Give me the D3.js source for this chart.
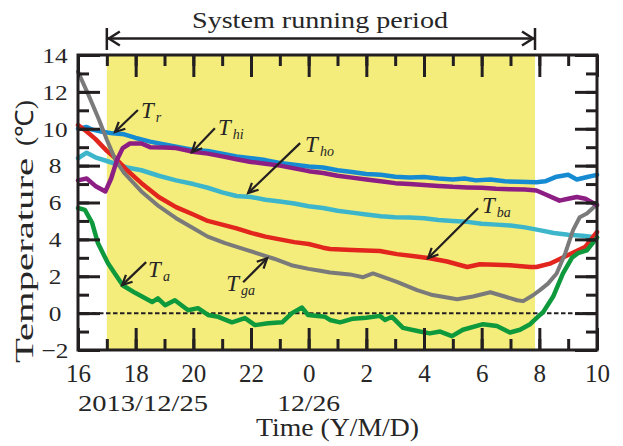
<!DOCTYPE html>
<html><head><meta charset="utf-8">
<script src="https://cdn.jsdelivr.net/npm/d3@7"></script>
<style>
body{margin:0;background:#fff}
svg{display:block}
text{font-family:"Liberation Serif","Times New Roman",serif;fill:#262626}
</style>
</head><body>
<svg id="chart" width="623" height="446"></svg>
<script>
// ---------- data ----------
const xTickHours = [0,2,4,6,8,10,12,14,16,18];
const xTickLabels = ["16","18","20","22","0","2","4","6","8","10"];
const xMinorHours = d3.range(0,19,1);
const dateLabels = ["2013/12/25","12/26"];
const dateLabelHours = [0,8];
const yTicks = [-2,0,2,4,6,8,10,12,14];
const yMinor = d3.range(-2,15,1);
const runPeriod = [1.0, 15.85];
const titleText = "System running period";
const xTitle = "Time (Y/M/D)";
const yTitle = "Temperature";
const yUnit = "(℃)";

const seriesTr = [[0,10.0],[0.3,10.1],[0.5,9.95],[0.8,9.85],[1.2,9.75],[1.6,9.7],[2,9.5],[2.5,9.3],[3,9.15],[3.5,9.0],[4,8.85],[4.5,8.8],[5,8.65],[5.5,8.5],[6,8.4],[6.5,8.3],[7,8.15],[7.5,8.05],[8,7.95],[8.5,7.9],[9,7.75],[9.5,7.65],[10,7.55],[10.5,7.5],[11,7.4],[11.5,7.35],[12,7.38],[12.5,7.3],[13,7.25],[13.4,7.3],[13.8,7.2],[14.3,7.25],[14.8,7.15],[15.3,7.12],[15.9,7.1],[16.2,7.15],[16.6,7.4],[17,7.5],[17.3,7.25],[17.7,7.4],[18,7.5]];
const seriesThi = [[0,7.2],[0.3,7.3],[0.6,6.9],[0.95,6.6],[1.15,7.3],[1.35,8.3],[1.55,8.95],[1.8,9.2],[2.2,9.2],[2.5,9.0],[3.0,8.98],[3.4,8.95],[4,8.75],[4.5,8.65],[5,8.5],[5.5,8.35],[6,8.2],[6.5,8.1],[7,8.0],[7.5,7.85],[8,7.7],[8.5,7.6],[9,7.45],[9.5,7.35],[10,7.25],[10.5,7.15],[11,7.05],[11.5,7.0],[12,6.95],[12.5,6.9],[13,6.85],[13.5,6.82],[14,6.8],[14.5,6.75],[15,6.72],[15.5,6.7],[15.9,6.65],[16.2,6.45],[16.7,6.1],[17,6.2],[17.3,6.3],[17.6,6.2],[18,5.85]];
const seriesTho = [[0,8.4],[0.3,8.7],[0.6,8.45],[1.0,8.25],[1.3,8.1],[1.7,7.9],[2.2,7.75],[2.8,7.45],[3.4,7.2],[4,7.0],[4.5,6.8],[5,6.55],[5.5,6.35],[6,6.3],[6.5,6.15],[7,6.05],[7.5,5.95],[8,5.8],[8.5,5.7],[9,5.55],[9.5,5.45],[10,5.35],[10.5,5.25],[11,5.2],[11.5,5.18],[12,5.15],[12.5,5.05],[13,5.0],[13.5,4.95],[14,4.85],[14.5,4.8],[15,4.75],[15.5,4.65],[16,4.5],[16.5,4.35],[17,4.25],[17.5,4.2],[18,4.1]];
const seriesTba = [[0,10.2],[0.3,9.85],[0.6,9.45],[1,8.8],[1.3,8.4],[1.7,7.75],[2.2,7.05],[2.8,6.3],[3.4,5.75],[4,5.35],[4.5,5.0],[5,4.8],[5.5,4.6],[6,4.35],[6.5,4.15],[7,4.0],[7.5,3.85],[8,3.75],[8.5,3.55],[8.74,3.48],[9.5,3.42],[10.47,3.37],[11.06,3.2],[11.6,3.1],[12.2,2.98],[12.8,2.8],[13.5,2.5],[13.94,2.65],[14.5,2.62],[14.98,2.6],[15.68,2.5],[15.9,2.5],[16.4,2.7],[16.8,3.0],[17.2,3.3],[17.6,3.6],[18,4.4]];
const seriesTga = [[0,13.1],[0.4,11.7],[0.7,10.6],[1.0,9.4],[1.3,8.3],[1.6,7.6],[2.2,6.6],[2.8,5.8],[3.4,5.15],[4,4.6],[4.5,4.15],[5.1,3.8],[5.7,3.5],[6.3,3.2],[6.8,2.95],[7.4,2.6],[8,2.4],[8.4,2.3],[8.74,2.2],[9.43,2.1],[9.89,1.95],[10.23,2.15],[10.6,1.95],[11.06,1.7],[11.76,1.25],[12.3,0.98],[13.15,0.75],[13.7,0.9],[14.3,1.13],[14.8,0.9],[15.23,0.7],[15.44,0.65],[15.78,0.97],[16.02,1.25],[16.3,1.6],[16.6,2.15],[16.9,3.25],[17.17,4.5],[17.4,5.2],[17.65,5.4],[18,5.9]];
const seriesTa = [[0,5.7],[0.24,5.6],[0.49,4.9],[0.69,3.8],[1.04,2.7],[1.3,2.1],[1.56,1.5],[1.98,1.1],[2.22,0.9],[2.57,0.6],[2.77,0.8],[3.02,0.43],[3.36,0.7],[3.82,0.16],[4.16,0.27],[4.51,-0.1],[4.86,-0.2],[5.34,-0.5],[5.79,-0.27],[6.14,-0.65],[6.59,-0.55],[7.08,-0.5],[7.42,0.0],[7.77,0.3],[7.98,-0.1],[8.57,-0.2],[8.74,-0.37],[9.09,-0.5],[9.54,-0.3],[10.0,-0.25],[10.47,-0.15],[10.65,-0.37],[10.89,-0.2],[11.27,-0.8],[11.86,-1.0],[12.2,-1.1],[12.56,-1.0],[12.97,-1.25],[13.35,-0.9],[14.05,-0.6],[14.53,-0.7],[14.98,-1.05],[15.33,-0.9],[15.68,-0.6],[16.02,-0.1],[16.13,0.05],[16.48,0.9],[16.82,2.15],[17.13,3.0],[17.34,3.25],[17.65,3.4],[18,4.1]];

const seriesNames = ["Tr","Tho","Tba","Tga","Thi","Ta"];
const seriesData = [seriesTr, seriesTho, seriesTba, seriesTga, seriesThi, seriesTa];
const seriesColors = ["#178bd2","#3db6cb","#e2261d","#7a7a7a","#8d1e84","#0e9a3c"];

// annotation: symbol base, subscript, arrow head (hour, value)
const annoBase = ["T","T","T","T","T","T"];
const annoSub = ["r","hi","ho","ba","a","ga"];
const annoHeadHour = [1.28, 3.95, 5.90, 12.14, 1.53, 6.56];
const annoHeadValue = [9.82, 8.73, 6.51, 2.98, 1.52, 2.98];

// ---------- layout ----------
const L = 78, R = 597, T = 55, B = 350;
const svg = d3.select("#chart");
const x = d3.scaleLinear().domain([0,18]).range([L,R]);
const y = d3.scaleLinear().domain([-2,14]).range([B,T]);
const ink = "#231f20";

function stretch(sel, f){
  sel.each(function(){
    const n = this.getComputedTextLength();
    d3.select(this).attr("textLength", n*f).attr("lengthAdjust","spacingAndGlyphs");
  });
}

// running period shading
svg.append("rect")
  .attr("x", x(runPeriod[0])).attr("y", T)
  .attr("width", x(runPeriod[1]) - x(runPeriod[0])).attr("height", B - T)
  .attr("fill", "#f4ed7c");

// zero dashed line
svg.append("line")
  .attr("x1", L).attr("x2", R).attr("y1", y(0)).attr("y2", y(0))
  .attr("stroke", ink).attr("stroke-width", 2).attr("stroke-dasharray", "4.5,2.5");

// series
const line = d3.line().x(d => x(d[0])).y(d => y(d[1]));
seriesData.forEach((s, i) => {
  svg.append("path").datum(s)
    .attr("d", line)
    .attr("fill", "none")
    .attr("stroke", seriesColors[i])
    .attr("stroke-width", seriesNames[i] === "Tga" ? 4 : 4.5)
    .attr("stroke-linejoin", "round")
    .attr("stroke-linecap", "round");
});

// axes (inward ticks)
function styleAxis(g){
  g.select(".domain").remove();
  g.selectAll(".tick line").attr("stroke", ink).attr("stroke-width", 3);
}
const majorLen = 22, minorLen = 11;
// bottom
const gB = svg.append("g").attr("transform", `translate(0,${B})`);
gB.append("g").call(d3.axisBottom(x).tickValues(xMinorHours).tickSizeInner(-minorLen).tickFormat("")).call(styleAxis);
const gBm = gB.append("g").call(d3.axisBottom(x).tickValues(xTickHours).tickSizeInner(-majorLen).tickFormat((d,i) => xTickLabels[i])).call(styleAxis);
gBm.selectAll(".tick text").attr("y", 32).attr("dy", 0).attr("font-size", 25).attr("fill", ink);
// top
const gT = svg.append("g").attr("transform", `translate(0,${T})`);
gT.append("g").call(d3.axisTop(x).tickValues(xMinorHours).tickSizeInner(-minorLen).tickFormat("")).call(styleAxis);
gT.append("g").call(d3.axisTop(x).tickValues(xTickHours).tickSizeInner(-majorLen).tickFormat("")).call(styleAxis);
// left
const gL = svg.append("g").attr("transform", `translate(${L},0)`);
gL.append("g").call(d3.axisLeft(y).tickValues(yMinor).tickSizeInner(-minorLen).tickFormat("")).call(styleAxis);
const gLm = gL.append("g").call(d3.axisLeft(y).tickValues(yTicks).tickSizeInner(-majorLen).tickFormat(d3.format("d"))).call(styleAxis);
gLm.selectAll(".tick text").attr("x", 55 - L).attr("text-anchor", "middle").attr("dy", "0.33em")
  .attr("font-size", 22).attr("fill", ink).call(stretch, 1.15);
// right
const gR = svg.append("g").attr("transform", `translate(${R},0)`);
gR.append("g").call(d3.axisRight(y).tickValues(yMinor).tickSizeInner(-minorLen).tickFormat("")).call(styleAxis);
gR.append("g").call(d3.axisRight(y).tickValues(yTicks).tickSizeInner(-majorLen).tickFormat("")).call(styleAxis);

// frame
svg.append("rect").attr("x", L).attr("y", T).attr("width", R - L).attr("height", B - T)
  .attr("fill", "none").attr("stroke", ink).attr("stroke-width", 3);

// date labels
const dateWidths = [130, 63];
svg.selectAll(".date").data(dateLabels).join("text")
  .attr("class","date")
  .attr("x", (d,i) => x(dateLabelHours[i]))
  .attr("y", 411)
  .attr("text-anchor", (d,i) => i === 0 ? "start" : "middle")
  .attr("font-size", 23)
  .text(d => d)
  .attr("textLength", (d,i) => dateWidths[i]).attr("lengthAdjust","spacingAndGlyphs");

// axis titles
svg.append("text").attr("x", (L+R)/2).attr("y", 436).attr("text-anchor","middle")
  .attr("font-size", 25).text(xTitle).attr("textLength", 163).attr("lengthAdjust","spacingAndGlyphs");
svg.append("text").attr("transform", "translate(33,363) rotate(-90)").attr("text-anchor","start")
  .attr("font-size", 25).text(yTitle).attr("textLength", 205).attr("lengthAdjust","spacingAndGlyphs");
svg.append("text").attr("transform", "translate(33,146) rotate(-90)").attr("text-anchor","start")
  .attr("font-size", 25).text(yUnit).attr("textLength", 46).attr("lengthAdjust","spacingAndGlyphs");

// title + period arrow
svg.append("text").attr("x", 320).attr("y", 28).attr("text-anchor","middle")
  .attr("font-size", 24).text(titleText).attr("textLength", 256).attr("lengthAdjust","spacingAndGlyphs");
const xs = x(runPeriod[0]), xe = x(runPeriod[1]), ya = 38.5;
const ga = svg.append("g").attr("stroke", ink).attr("stroke-width", 2.5).attr("fill","none");
ga.append("line").attr("x1", xs).attr("x2", xe).attr("y1", ya).attr("y2", ya);
ga.append("line").attr("x1", xs).attr("x2", xs).attr("y1", 28).attr("y2", 50);
ga.append("line").attr("x1", xe).attr("x2", xe).attr("y1", 28).attr("y2", 50);
ga.append("path").attr("d", `M${xs+13},${ya-7}L${xs+2},${ya}L${xs+13},${ya+7}`);
ga.append("path").attr("d", `M${xe-13},${ya-7}L${xe-2},${ya}L${xe-13},${ya+7}`);

// annotations (offsets in px from arrow head)
const tailOff = [[23,-22],[23,-24],[52,-50],[50,-50],[24,-23],[-24,24]];
const textOff = [[26,-14],[26,-17],[57,-41],[54,-45],[26,-8],[-41,33]];
const ag = svg.append("g");
annoSub.forEach((sub, i) => {
  const hx = x(annoHeadHour[i]), hy = y(annoHeadValue[i]);
  const tx = hx + tailOff[i][0], ty = hy + tailOff[i][1];
  const ang = Math.atan2(ty - hy, tx - hx);
  const a1 = ang + 0.45, a2 = ang - 0.45, hl = 11;
  ag.append("line").attr("x1", tx).attr("y1", ty).attr("x2", hx).attr("y2", hy)
    .attr("stroke", ink).attr("stroke-width", 2.2);
  ag.append("path")
    .attr("d", `M${hx + hl*Math.cos(a1)},${hy + hl*Math.sin(a1)}L${hx},${hy}L${hx + hl*Math.cos(a2)},${hy + hl*Math.sin(a2)}`)
    .attr("stroke", ink).attr("stroke-width", 2.2).attr("fill", "none");
  const t = ag.append("text").attr("x", hx + textOff[i][0]).attr("y", hy + textOff[i][1])
    .attr("font-style", "italic").attr("font-size", 23);
  t.append("tspan").text(annoBase[i]);
  t.append("tspan").attr("dx", 2).attr("dy", 4).attr("font-size", 14).text(sub);
});
</script>
</body></html>
